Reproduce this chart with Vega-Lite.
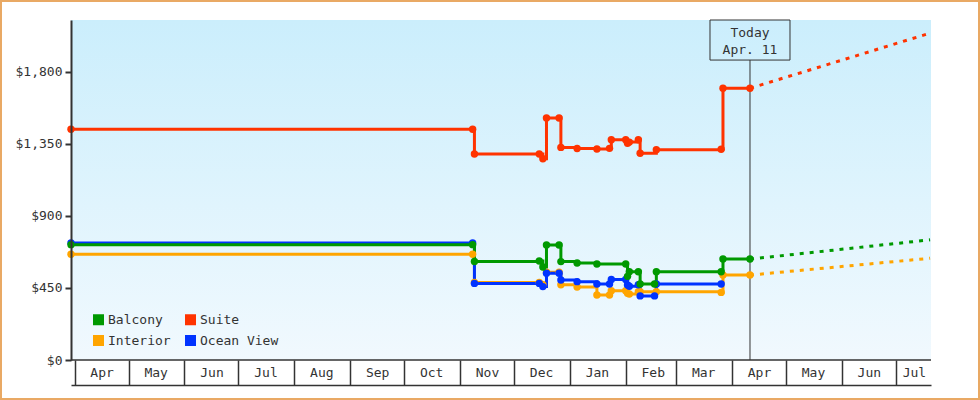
{
  "$schema": "https://vega.github.io/schema/vega-lite/v6.json",
  "width": 980,
  "height": 400,
  "padding": 0,
  "autosize": {"type": "none"},
  "background": "white",
  "config": {
    "view": {"stroke": "#E9A964", "strokeWidth": 4, "fill": "white"},
    "font": "DejaVu Sans Mono",
    "axis": {"grid": false, "domainColor": "#333", "tickColor": "#333", "labelColor": "#333", "labelFont": "DejaVu Sans Mono", "labelFontSize": 13, "title": null},
    "legend": {
      "orient": "none", "legendX": 92, "legendY": 313, "columns": 2, "direction": "horizontal",
      "symbolType": "square", "symbolSize": 121, "symbolStrokeWidth": 0, "labelFont": "DejaVu Sans Mono",
      "labelFontSize": 13, "labelColor": "#333", "rowPadding": 7, "columnPadding": 13, "padding": 0, "labelOffset": 3, "title": null
    }
  },
  "datasets": {
    "today": [{"date": "2019-04-11", "label": ["Today", "Apr. 11"]}],
    "prices": [
      {"date": "2018-03-30", "cabin": "Interior", "price": 660, "kind": "actual"},
      {"date": "2018-11-08", "cabin": "Interior", "price": 660, "kind": "actual"},
      {"date": "2018-11-09", "cabin": "Interior", "price": 484, "kind": "actual"},
      {"date": "2018-12-15", "cabin": "Interior", "price": 484, "kind": "actual"},
      {"date": "2018-12-17", "cabin": "Interior", "price": 470, "kind": "actual"},
      {"date": "2018-12-19", "cabin": "Interior", "price": 548, "kind": "actual"},
      {"date": "2018-12-26", "cabin": "Interior", "price": 548, "kind": "actual"},
      {"date": "2018-12-27", "cabin": "Interior", "price": 470, "kind": "actual"},
      {"date": "2019-01-05", "cabin": "Interior", "price": 456, "kind": "actual"},
      {"date": "2019-01-16", "cabin": "Interior", "price": 406, "kind": "actual"},
      {"date": "2019-01-23", "cabin": "Interior", "price": 406, "kind": "actual"},
      {"date": "2019-01-24", "cabin": "Interior", "price": 432, "kind": "actual"},
      {"date": "2019-02-01", "cabin": "Interior", "price": 432, "kind": "actual"},
      {"date": "2019-02-02", "cabin": "Interior", "price": 416, "kind": "actual"},
      {"date": "2019-02-03", "cabin": "Interior", "price": 412, "kind": "actual"},
      {"date": "2019-02-08", "cabin": "Interior", "price": 426, "kind": "actual"},
      {"date": "2019-02-09", "cabin": "Interior", "price": 426, "kind": "actual"},
      {"date": "2019-02-18", "cabin": "Interior", "price": 426, "kind": "actual"},
      {"date": "2019-03-26", "cabin": "Interior", "price": 422, "kind": "actual"},
      {"date": "2019-03-27", "cabin": "Interior", "price": 530, "kind": "actual"},
      {"date": "2019-04-11", "cabin": "Interior", "price": 530, "kind": "actual"},
      {"date": "2019-04-11", "cabin": "Interior", "price": 530, "kind": "forecast"},
      {"date": "2019-07-20", "cabin": "Interior", "price": 635, "kind": "forecast"},
      {"date": "2018-03-30", "cabin": "Ocean View", "price": 730, "kind": "actual"},
      {"date": "2018-11-08", "cabin": "Ocean View", "price": 730, "kind": "actual"},
      {"date": "2018-11-09", "cabin": "Ocean View", "price": 478, "kind": "actual"},
      {"date": "2018-12-15", "cabin": "Ocean View", "price": 478, "kind": "actual"},
      {"date": "2018-12-17", "cabin": "Ocean View", "price": 458, "kind": "actual"},
      {"date": "2018-12-19", "cabin": "Ocean View", "price": 541, "kind": "actual"},
      {"date": "2018-12-26", "cabin": "Ocean View", "price": 541, "kind": "actual"},
      {"date": "2018-12-27", "cabin": "Ocean View", "price": 499, "kind": "actual"},
      {"date": "2019-01-05", "cabin": "Ocean View", "price": 489, "kind": "actual"},
      {"date": "2019-01-16", "cabin": "Ocean View", "price": 474, "kind": "actual"},
      {"date": "2019-01-23", "cabin": "Ocean View", "price": 474, "kind": "actual"},
      {"date": "2019-01-24", "cabin": "Ocean View", "price": 502, "kind": "actual"},
      {"date": "2019-02-01", "cabin": "Ocean View", "price": 502, "kind": "actual"},
      {"date": "2019-02-02", "cabin": "Ocean View", "price": 468, "kind": "actual"},
      {"date": "2019-02-03", "cabin": "Ocean View", "price": 460, "kind": "actual"},
      {"date": "2019-02-08", "cabin": "Ocean View", "price": 470, "kind": "actual"},
      {"date": "2019-02-09", "cabin": "Ocean View", "price": 400, "kind": "actual"},
      {"date": "2019-02-17", "cabin": "Ocean View", "price": 400, "kind": "actual"},
      {"date": "2019-02-18", "cabin": "Ocean View", "price": 474, "kind": "actual"},
      {"date": "2019-03-26", "cabin": "Ocean View", "price": 474, "kind": "actual"},
      {"date": "2018-03-30", "cabin": "Balcony", "price": 720, "kind": "actual"},
      {"date": "2018-11-08", "cabin": "Balcony", "price": 720, "kind": "actual"},
      {"date": "2018-11-09", "cabin": "Balcony", "price": 615, "kind": "actual"},
      {"date": "2018-12-15", "cabin": "Balcony", "price": 618, "kind": "actual"},
      {"date": "2018-12-17", "cabin": "Balcony", "price": 580, "kind": "actual"},
      {"date": "2018-12-19", "cabin": "Balcony", "price": 718, "kind": "actual"},
      {"date": "2018-12-26", "cabin": "Balcony", "price": 718, "kind": "actual"},
      {"date": "2018-12-27", "cabin": "Balcony", "price": 614, "kind": "actual"},
      {"date": "2019-01-05", "cabin": "Balcony", "price": 605, "kind": "actual"},
      {"date": "2019-01-16", "cabin": "Balcony", "price": 599, "kind": "actual"},
      {"date": "2019-02-01", "cabin": "Balcony", "price": 599, "kind": "actual"},
      {"date": "2019-02-02", "cabin": "Balcony", "price": 522, "kind": "actual"},
      {"date": "2019-02-03", "cabin": "Balcony", "price": 551, "kind": "actual"},
      {"date": "2019-02-08", "cabin": "Balcony", "price": 551, "kind": "actual"},
      {"date": "2019-02-09", "cabin": "Balcony", "price": 474, "kind": "actual"},
      {"date": "2019-02-17", "cabin": "Balcony", "price": 474, "kind": "actual"},
      {"date": "2019-02-18", "cabin": "Balcony", "price": 551, "kind": "actual"},
      {"date": "2019-03-26", "cabin": "Balcony", "price": 551, "kind": "actual"},
      {"date": "2019-03-27", "cabin": "Balcony", "price": 630, "kind": "actual"},
      {"date": "2019-04-11", "cabin": "Balcony", "price": 630, "kind": "actual"},
      {"date": "2019-04-11", "cabin": "Balcony", "price": 630, "kind": "forecast"},
      {"date": "2019-07-20", "cabin": "Balcony", "price": 750, "kind": "forecast"},
      {"date": "2018-03-30", "cabin": "Suite", "price": 1440, "kind": "actual"},
      {"date": "2018-11-08", "cabin": "Suite", "price": 1440, "kind": "actual"},
      {"date": "2018-11-09", "cabin": "Suite", "price": 1286, "kind": "actual"},
      {"date": "2018-12-15", "cabin": "Suite", "price": 1286, "kind": "actual"},
      {"date": "2018-12-17", "cabin": "Suite", "price": 1256, "kind": "actual"},
      {"date": "2018-12-19", "cabin": "Suite", "price": 1510, "kind": "actual"},
      {"date": "2018-12-26", "cabin": "Suite", "price": 1510, "kind": "actual"},
      {"date": "2018-12-27", "cabin": "Suite", "price": 1327, "kind": "actual"},
      {"date": "2019-01-05", "cabin": "Suite", "price": 1320, "kind": "actual"},
      {"date": "2019-01-16", "cabin": "Suite", "price": 1317, "kind": "actual"},
      {"date": "2019-01-23", "cabin": "Suite", "price": 1321, "kind": "actual"},
      {"date": "2019-01-24", "cabin": "Suite", "price": 1375, "kind": "actual"},
      {"date": "2019-02-01", "cabin": "Suite", "price": 1375, "kind": "actual"},
      {"date": "2019-02-02", "cabin": "Suite", "price": 1352, "kind": "actual"},
      {"date": "2019-02-03", "cabin": "Suite", "price": 1360, "kind": "actual"},
      {"date": "2019-02-08", "cabin": "Suite", "price": 1375, "kind": "actual"},
      {"date": "2019-02-09", "cabin": "Suite", "price": 1290, "kind": "actual"},
      {"date": "2019-02-18", "cabin": "Suite", "price": 1312, "kind": "actual"},
      {"date": "2019-03-26", "cabin": "Suite", "price": 1315, "kind": "actual"},
      {"date": "2019-03-27", "cabin": "Suite", "price": 1696, "kind": "actual"},
      {"date": "2019-04-11", "cabin": "Suite", "price": 1696, "kind": "actual"},
      {"date": "2019-04-11", "cabin": "Suite", "price": 1696, "kind": "forecast"},
      {"date": "2019-07-20", "cabin": "Suite", "price": 2040, "kind": "forecast"}
    ]
  },
  "layer": [
    {
      "data": {"name": "today"},
      "mark": {"type": "rect", "fill": {"gradient": "linear", "x1": 0, "y1": 0, "x2": 0, "y2": 1, "stops": [{"offset": 0, "color": "#cbeefc"}, {"offset": 1, "color": "#f1f9fe"}]}},
      "encoding": {
        "x": {
          "datum": {"year": 2018, "month": 3, "date": 30, "utc": true}, "type": "temporal",
          "scale": {"type": "utc", "domain": [{"year": 2018, "month": 3, "date": 30, "utc": true}, {"year": 2019, "month": 7, "date": 20, "hours": 12, "utc": true}], "range": [71, 931]},
          "axis": {
            "orient": "bottom", "offset": -15, "format": "%b", "tickCount": {"interval": "month", "step": 1},
            "tickSize": -25, "tickWidth": 1.5, "domainWidth": 1.5, "labelPadding": 12.5, "labelBaseline": "middle", "labelAlign": "center",
            "labelOffset": {"condition": {"test": "utcyear(datum.value) == 2019 && utcmonth(datum.value) == 6", "value": 18}, "value": 27},
            "labelFlush": false, "labelOverlap": false, "labelBound": false, "zindex": 1
          }
        },
        "x2": {"datum": {"year": 2019, "month": 7, "date": 20, "hours": 12, "utc": true}},
        "y": {
          "datum": 0, "type": "quantitative",
          "scale": {"domain": [0, 2122], "range": [360, 20], "nice": false, "zero": false},
          "axis": {"orient": "left", "offset": -71, "values": [0, 450, 900, 1350, 1800], "format": "$,.0f", "tickSize": 6, "tickWidth": 2, "domainWidth": 2, "labelPadding": 3, "zindex": 1}
        },
        "y2": {"datum": 2122}
      }
    },
    {
      "data": {"name": "today"},
      "mark": {"type": "rule", "color": "#333", "strokeWidth": 1.5},
      "encoding": {
        "x": {"datum": {"year": 2018, "month": 3, "date": 30, "utc": true}, "type": "temporal"},
        "x2": {"datum": {"year": 2019, "month": 7, "date": 20, "hours": 12, "utc": true}},
        "y": {"datum": 0, "type": "quantitative"}
      }
    },
    {
      "data": {"name": "today"},
      "mark": {"type": "rule", "color": "#333", "strokeWidth": 1},
      "encoding": {
        "x": {"field": "date", "type": "temporal"},
        "y": {"datum": 0, "type": "quantitative"},
        "y2": {"datum": 1872}
      }
    },
    {
      "data": {"name": "today"},
      "mark": {"type": "rect", "fill": "transparent", "fillOpacity": 0, "stroke": "#333", "strokeOpacity": 1, "strokeWidth": 1, "xOffset": -40, "x2Offset": 40},
      "encoding": {
        "x": {"field": "date", "type": "temporal"},
        "x2": {"field": "date"},
        "y": {"datum": 1872, "type": "quantitative"},
        "y2": {"datum": 2122}
      }
    },
    {
      "data": {"name": "today"},
      "mark": {"type": "text", "font": "DejaVu Sans Mono", "fontSize": 13, "color": "#333", "baseline": "middle", "align": "center", "lineHeight": 17},
      "encoding": {
        "x": {"field": "date", "type": "temporal"},
        "y": {"datum": 2041, "type": "quantitative"},
        "text": {"field": "label"}
      }
    },
    {
      "data": {"name": "prices"},
      "transform": [{"filter": "datum.kind == 'forecast'"}],
      "mark": {"type": "line", "strokeWidth": 3, "strokeDash": [4, 6]},
      "encoding": {
        "x": {"field": "date", "type": "temporal"},
        "y": {"field": "price", "type": "quantitative"},
        "color": {"field": "cabin", "type": "nominal"}
      }
    },
    {
      "data": {"name": "prices"},
      "transform": [{"filter": "datum.kind == 'actual'"}],
      "mark": {"type": "line", "strokeWidth": 3, "interpolate": "step-after"},
      "encoding": {
        "x": {"field": "date", "type": "temporal"},
        "y": {"field": "price", "type": "quantitative"},
        "color": {"field": "cabin", "type": "nominal"}
      }
    },
    {
      "data": {"name": "prices"},
      "transform": [{"filter": "datum.kind == 'actual'"}],
      "mark": {"type": "circle", "size": 55, "opacity": 1},
      "encoding": {
        "x": {"field": "date", "type": "temporal"},
        "y": {"field": "price", "type": "quantitative"},
        "color": {
          "field": "cabin", "type": "nominal",
          "scale": {"domain": ["Balcony", "Suite", "Interior", "Ocean View"], "range": ["#009900", "#FF3300", "#FFA500", "#0033FF"]},
          "legend": {"encode": {"symbols": {"update": {"fill": {"scale": "color", "field": "value"}, "stroke": {"value": "transparent"}, "opacity": {"value": 1}}}}}
        }
      }
    }
  ]
}
